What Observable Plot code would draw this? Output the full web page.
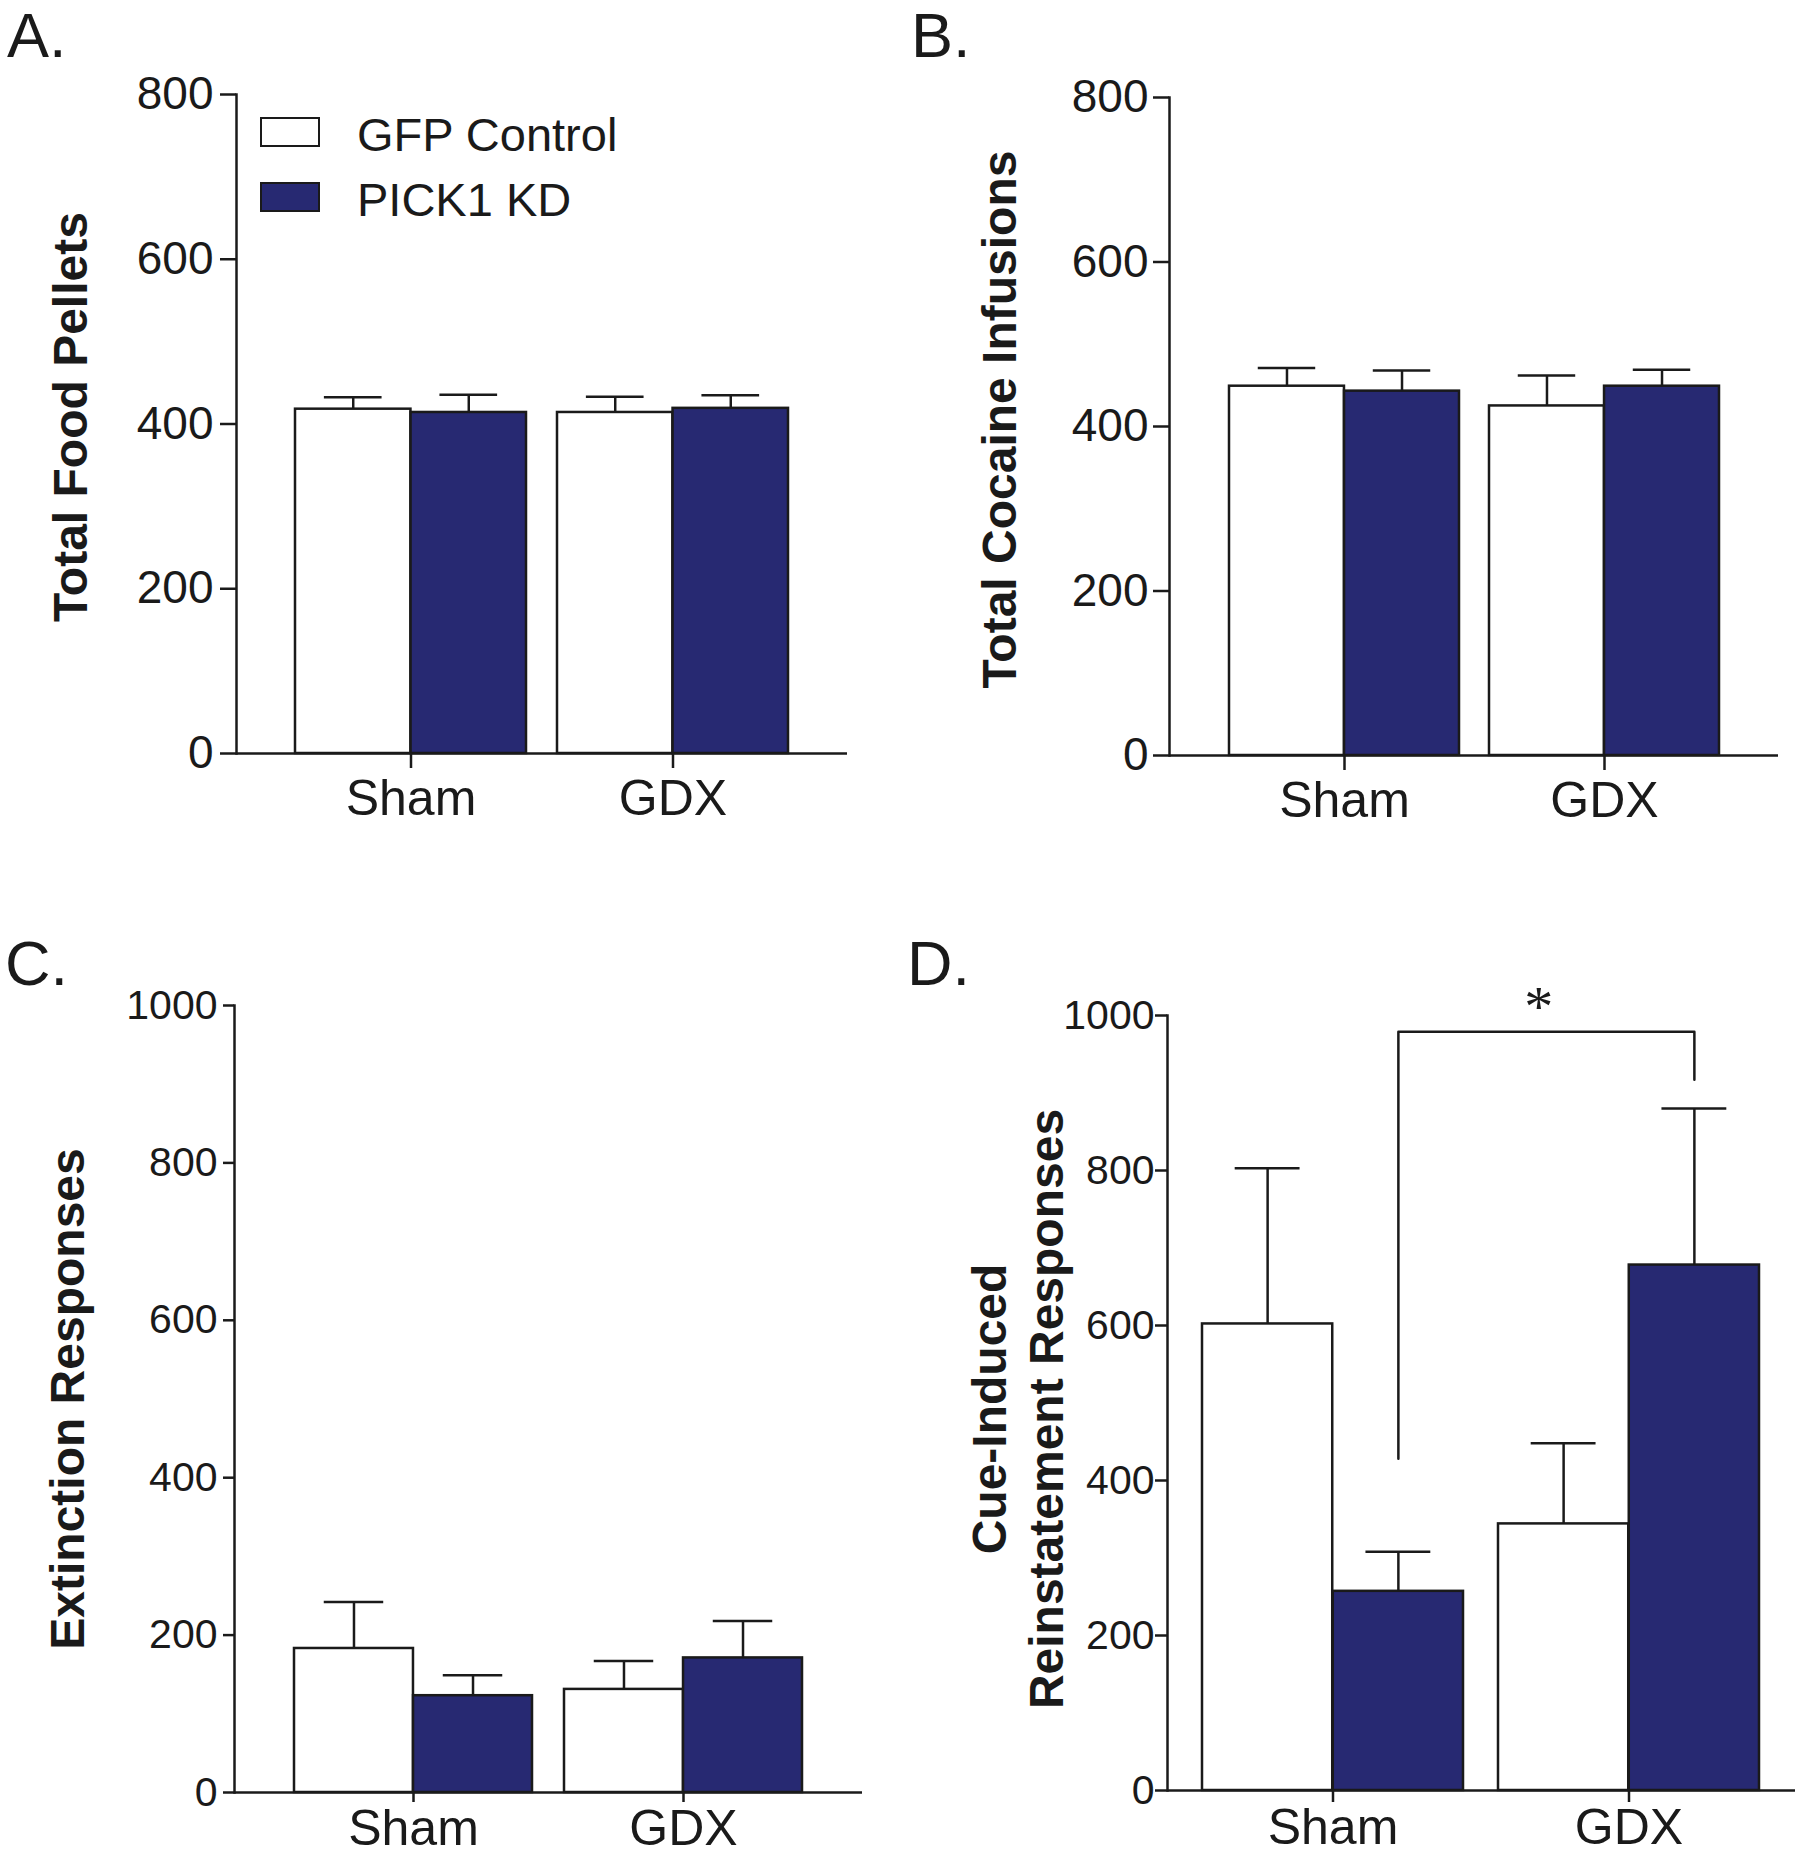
<!DOCTYPE html>
<html>
<head>
<meta charset="utf-8">
<script src="https://cdn.jsdelivr.net/npm/d3@7"></script>
<script src="https://cdn.jsdelivr.net/npm/@observablehq/plot@0.6"></script>
<style>
  html, body { margin: 0; padding: 0; background: #ffffff; }
  #fig { position: relative; width: 1800px; height: 1856px; overflow: hidden;
         font-family: "Liberation Sans", Arial, sans-serif; color: #1a1a1a; background: #fff; }
  .panel { position: absolute; }
  .letter { position: absolute; font-size: 63px; line-height: 1; white-space: nowrap; }
  .lg-box { position: absolute; width: 60px; height: 30px; box-sizing: border-box; border: 2.5px solid #1a1a1a; }
  .lg-text { position: absolute; font-size: 47px; line-height: 1; white-space: nowrap; }
</style>
</head>
<body>
<div id="fig"></div>
<script>
// ---------------- data ----------------
const groups = ["Sham", "GDX"];
const seriesNames = ["GFP Control", "PICK1 KD"];
const seriesColors = ["#ffffff", "#272972"];

// A. Total food pellets
const foodGFP = [418, 414];
const foodGFPErr = [14.5, 19];
const foodKD = [414, 419];
const foodKDErr = [21.5, 16];

// B. Total cocaine infusions
const cocaineGFP = [449, 425];
const cocaineGFPErr = [22, 37];
const cocaineKD = [443, 449];
const cocaineKDErr = [25, 20];

// C. Extinction responses
const extinctionGFP = [183, 131];
const extinctionGFPErr = [59, 36];
const extinctionKD = [123, 171];
const extinctionKDErr = [26, 47];

// D. Cue-induced reinstatement responses
const reinstGFP = [602, 344];
const reinstGFPErr = [201, 104];
const reinstKD = [257, 678];
const reinstKDErr = [51, 202];

// significance bracket (D): Sham PICK1 KD vs GDX PICK1 KD
const bracketGroups = ["Sham", "Sham", "GDX", "GDX"];
const bracketValues = [428, 979, 979, 917];
const starLabel = "*";
const starValue = 1010;

const ticks800 = [0, 200, 400, 600, 800];
const ticks1000 = [0, 200, 400, 600, 800, 1000];

const panelLetters = ["A.", "B.", "C.", "D."];
const yTitles = [
  "Total Food Pellets",
  "Total Cocaine Infusions",
  "Extinction Responses",
  "Cue-Induced\nReinstatement Responses"
];

// ---------------- drawing ----------------
const ink = "#1a1a1a";
const sw = 2.5;

function rows(values, errs) {
  return groups.map((g, i) => ({group: g, value: values[i], top: values[i] + errs[i]}));
}

function panel(cfg) {
  const {width, height, ml, mr, mt, mb, pi, po} = cfg;
  const n = groups.length;
  const step = (width - ml - mr) / (n - pi + 2 * po);
  const bw = step * (1 - pi);
  const gfp = rows(cfg.gfp, cfg.gfpErr);
  const kd = rows(cfg.kd, cfg.kdErr);
  const marks = [
    Plot.barY(gfp, {x: "group", y: "value", fill: seriesColors[0], stroke: ink, strokeWidth: sw, insetRight: bw / 2}),
    Plot.barY(kd, {x: "group", y: "value", fill: seriesColors[1], stroke: ink, strokeWidth: sw, insetLeft: bw / 2}),
    Plot.ruleX(gfp, {x: "group", y1: "value", y2: "top", dx: -bw / 4, stroke: ink, strokeWidth: sw}),
    Plot.ruleX(kd, {x: "group", y1: "value", y2: "top", dx: bw / 4, stroke: ink, strokeWidth: sw}),
    Plot.tickY(gfp, {x: "group", y: "top", insetLeft: bw / 8, insetRight: 5 * bw / 8, stroke: ink, strokeWidth: sw}),
    Plot.tickY(kd, {x: "group", y: "top", insetLeft: 5 * bw / 8, insetRight: bw / 8, stroke: ink, strokeWidth: sw}),
    Plot.ruleY([0], {stroke: ink, strokeWidth: sw}),
    Plot.frame({anchor: "left", stroke: ink, strokeWidth: sw}),
    Plot.axisY(cfg.yTicks, {tickSize: cfg.yTickSize, tickPadding: cfg.yTickPad, fontSize: cfg.yFont,
      tickFormat: d => String(d), stroke: ink, fill: ink, strokeWidth: sw, label: null}),
    Plot.axisX({tickSize: cfg.xTickSize, tickPadding: cfg.xTickPad, fontSize: 50, stroke: ink, fill: ink, strokeWidth: sw, label: null}),
    Plot.text([cfg.title], {text: d => d, frameAnchor: "left", textAnchor: "middle", lineAnchor: "middle",
      rotate: -90, dx: cfg.labelDx, dy: cfg.labelDy,
      fontSize: 48, fontWeight: "bold", lineHeight: 1.19, fill: ink})
  ];
  if (cfg.bracket) {
    const pts = bracketGroups.map((g, i) => ({group: g, value: bracketValues[i]}));
    marks.push(Plot.line(pts, {x: "group", y: "value", dx: bw / 4, stroke: ink, strokeWidth: sw}));
    marks.push(Plot.text([{group: "Sham", value: starValue, label: starLabel}], {
      x: "group", y: "value", text: "label", dx: step / 2 + bw / 4 - 8,
      fontSize: 58, fontFamily: "Liberation Serif, Times New Roman, serif", fill: ink}));
  }
  return Plot.plot({
    width, height,
    marginLeft: ml, marginRight: mr, marginTop: mt, marginBottom: mb,
    style: {fontFamily: "'Liberation Sans', Arial, sans-serif", color: ink, background: "transparent", overflow: "visible"},
    x: {type: "band", domain: groups, paddingInner: pi, paddingOuter: po},
    y: {domain: [0, cfg.yMax]},
    marks
  });
}

const fig = document.getElementById("fig");

const configs = [
  {left: 0, top: 0, width: 900, height: 900, ml: 236, mr: 53, mt: 94, mb: 147, pi: 0.118, po: 0.225,
   yMax: 800, yTicks: ticks800, yTickSize: 16, yTickPad: 7, yFont: 46, xTickSize: 15, xTickPad: 11,
   gfp: foodGFP, gfpErr: foodGFPErr, kd: foodKD, kdErr: foodKDErr, title: yTitles[0], labelDx: -168, labelDy: -7},
  {left: 900, top: 0, width: 900, height: 900, ml: 269, mr: 22, mt: 97, mb: 145, pi: 0.116, po: 0.228,
   yMax: 800, yTicks: ticks800, yTickSize: 16, yTickPad: 5, yFont: 46, xTickSize: 15, xTickPad: 11,
   gfp: cocaineGFP, gfpErr: cocaineGFPErr, kd: cocaineKD, kdErr: cocaineKDErr, title: yTitles[1], labelDx: -172, labelDy: -7},
  {left: 0, top: 900, width: 900, height: 956, ml: 234, mr: 38, mt: 105, mb: 64, pi: 0.1185, po: 0.222,
   yMax: 1000, yTicks: ticks1000, yTickSize: 11, yTickPad: 6, yFont: 41, xTickSize: 10, xTickPad: 7,
   gfp: extinctionGFP, gfpErr: extinctionGFPErr, kd: extinctionKD, kdErr: extinctionKDErr, title: yTitles[2], labelDx: -169, labelDy: 0},
  {left: 900, top: 900, width: 900, height: 956, ml: 267, mr: 5, mt: 115, mb: 66, pi: 0.118, po: 0.118,
   yMax: 1000, yTicks: ticks1000, yTickSize: 12, yTickPad: 1, yFont: 41, xTickSize: 12, xTickPad: 6,
   gfp: reinstGFP, gfpErr: reinstGFPErr, kd: reinstKD, kdErr: reinstKDErr, title: yTitles[3], labelDx: -151, labelDy: 6, bracket: true}
];

configs.forEach(cfg => {
  const div = document.createElement("div");
  div.className = "panel";
  div.style.left = cfg.left + "px";
  div.style.top = cfg.top + "px";
  div.appendChild(panel(cfg));
  fig.appendChild(div);
});

// panel letters
const letterPos = [[7, 4], [911, 4], [5, 932], [907, 932]];
panelLetters.forEach((t, i) => {
  const d = document.createElement("div");
  d.className = "letter";
  d.style.left = letterPos[i][0] + "px";
  d.style.top = letterPos[i][1] + "px";
  d.textContent = t;
  fig.appendChild(d);
});

// legend (panel A)
const legendTops = [117, 182];
seriesNames.forEach((name, i) => {
  const b = document.createElement("div");
  b.className = "lg-box";
  b.style.left = "260px";
  b.style.top = legendTops[i] + "px";
  b.style.background = seriesColors[i];
  fig.appendChild(b);
  const t = document.createElement("div");
  t.className = "lg-text";
  t.style.left = "357px";
  t.style.top = (legendTops[i] - 6) + "px";
  t.textContent = name;
  fig.appendChild(t);
});
</script>
</body>
</html>
